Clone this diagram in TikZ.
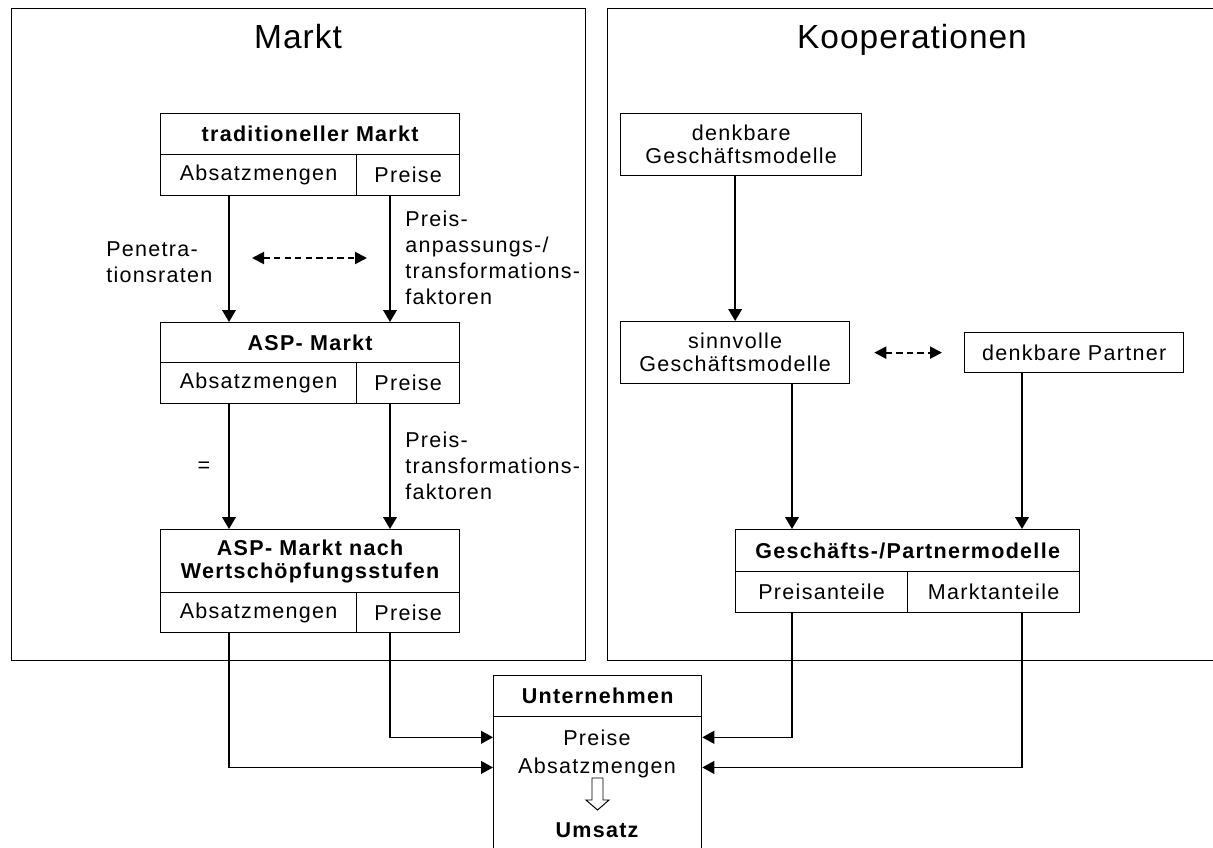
\documentclass[tikz,border=0pt]{standalone}
\usepackage{fontspec}
\setmainfont{Liberation Sans}[LetterSpace=6]
\usepackage{tikz}
\usetikzlibrary{arrows.meta, positioning}
\newcommand{\boxfont}{\fontsize{15.3}{16.4}\selectfont}
\newcommand{\notefont}{\fontsize{15.3}{18.5}\selectfont}
\newcommand{\titlefont}{\fontsize{23.8}{28}\selectfont\addfontfeatures{LetterSpace=3}}

\begin{document}
\begin{tikzpicture}[
    x=0.25mm, y=-0.25mm,
    every node/.style={inner sep=0pt},
    panel/.style 2 args={draw, line width=0.8pt, anchor=north west,
                         minimum width=#1*0.25mm, minimum height=#2*0.25mm},
    box/.style 2 args={draw, line width=0.9pt, anchor=north west, align=center,
                       minimum width=#1*0.25mm, minimum height=#2*0.25mm, font=\boxfont},
    head/.style 2 args={box={#1}{#2}, font=\boxfont\bfseries},
    title/.style={anchor=base, font=\titlefont},
    note/.style={anchor=west, align=left, font=\notefont},
    arrow/.style={line width=1.4pt, -{Triangle[length=3mm, width=3.4mm]}},
    link/.style={line width=1.1pt, -{Triangle[length=3mm, width=3.2mm]}},
    dasharrow/.style={line width=1.4pt, dash pattern=on 4.5pt off 3pt,
                      {Triangle[length=3mm, width=3mm]}-{Triangle[length=3mm, width=3mm]}}
]
\useasboundingbox (0,0) rectangle (1213,848);
% Rahmen
\node[panel={574}{652}] (markt) at (11,8) {};
\node[panel={609}{652}] (koop) at (607,8) {};
\node[title] (markttitle) at (298,49) {Markt};
\node[title] (kooptitle) at (912,49) {Kooperationen};
% Markt
\node[head={299}{41}] (trad) at (160,113) {traditioneller Markt};
\node[box={196}{41}] (tradAbs) at (160,154) {Absatzmengen};
\node[box={103}{41}] (tradPr) at (356,154) {Preise};
\node[head={299}{40}] (asp) at (160,322) {ASP- Markt};
\node[box={196}{41}] (aspAbs) at (160,362) {Absatzmengen};
\node[box={103}{41}] (aspPr) at (356,362) {Preise};
\node[head={299}{63}] (wsk) at (160,529) {ASP- Markt nach\\Wertschöpfungsstufen};
\node[box={196}{40}] (wskAbs) at (160,592) {Absatzmengen};
\node[box={103}{40}] (wskPr) at (356,592) {Preise};
\node[note] (pen) at (106,262) {Penetra-\\tionsraten};
\node[note] (panp) at (405,258) {Preis-\\anpassungs-/\\transformations-\\faktoren};
\node[font=\notefont] (gleich) at (204,467) {=};
\node[note] (ptrans) at (405,466) {Preis-\\transformations-\\faktoren};
% Kooperationen
\node[box={241}{62}] (dgm) at (620,113) {denkbare\\Geschäftsmodelle};
\node[box={229}{62}] (sgm) at (620,321) {sinnvolle\\Geschäftsmodelle};
\node[box={219}{40}] (dpart) at (964,332) {denkbare Partner};
\node[head={344}{42}] (gpm) at (735,529) {Geschäfts-/Partnermodelle};
\node[box={172}{41}] (gpmPr) at (735,571) {Preisanteile};
\node[box={172}{41}] (gpmMa) at (907,571) {Marktanteile};
% Unternehmen
\node[head={208}{41}] (unt) at (493,675) {Unternehmen};
\node[box={208}{140}] (untBody) at (493,716) {};
\node[anchor=base, font=\boxfont] (untPr) at (597,745) {Preise};
\node[anchor=base, font=\boxfont] (untAbs) at (597,773) {Absatzmengen};
\node[anchor=base, font=\boxfont\bfseries] (untUms) at (597,837) {Umsatz};
\draw[line width=0.7pt] (592,778) -- (603,778) -- (603,800) -- (609,800) -- (597.5,810)
    -- (586,800) -- (592,800) -- cycle;

\coordinate (xL) at (229,0); \coordinate (xR) at (390,0);
\coordinate (xP) at (792,0); \coordinate (xM) at (1022,0);
\coordinate (dashA) at (229,258); \coordinate (dashB) at (390,258);

\draw[arrow] (tradAbs.south -| xL) -- (asp.north -| xL);
\draw[arrow] (tradPr.south -| xR) -- (asp.north -| xR);
\draw[arrow] (aspAbs.south -| xL) -- (wsk.north -| xL);
\draw[arrow] (aspPr.south -| xR) -- (wsk.north -| xR);
\draw[dasharrow, shorten <=5.75mm, shorten >=5.75mm] (dashA) -- (dashB);
\draw[arrow] (dgm.south -| sgm.north) -- (sgm.north);
\draw[arrow] (sgm.south -| xP) -- (gpm.north -| xP);
\draw[arrow] (dpart.south -| xM) -- (gpm.north -| xM);
\draw[dasharrow, shorten <=6mm, shorten >=5.5mm] (sgm.east) -- (sgm.east -| dpart.west);

\draw[link] (wskPr.south -| xR) |- (untPr -| untBody.west);
\draw[link] (wskAbs.south -| xL) |- (untAbs -| untBody.west);
\draw[link] (gpmPr.south -| xP) |- (untPr -| untBody.east);
\draw[link] (gpmMa.south -| xM) |- (untAbs -| untBody.east);
\end{tikzpicture}
\end{document}
